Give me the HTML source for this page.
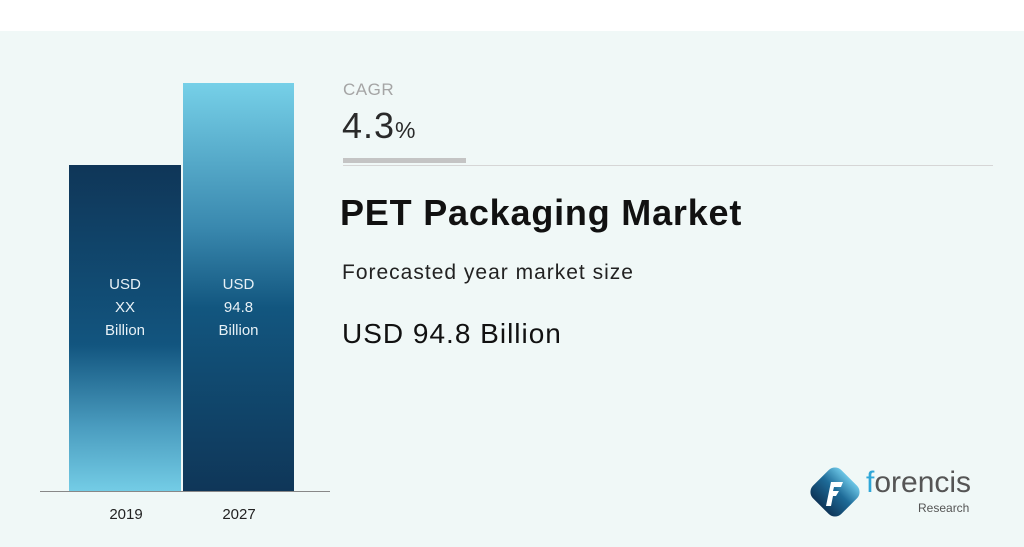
<!DOCTYPE html>
<html><head><meta charset="utf-8"><style>
html,body{margin:0;padding:0}
body{width:1024px;height:547px;position:relative;background:#fff;font-family:"Liberation Sans","DejaVu Sans",sans-serif;overflow:hidden}
.bg{position:absolute;left:0;top:31px;width:1024px;height:516px;background:#f0f8f7}
.a{position:absolute}
.bar{position:absolute;color:#e8f1f6;font-size:15px;line-height:23px;text-align:center}
</style></head><body>
<div class="bg"></div>
<div class="bar" style="left:69px;top:165px;width:112px;height:327px;background:linear-gradient(#0f3658,#12557f 55%,#4a9cbf 80%,#74cde6)"><div style="margin-top:108px">USD<br>XX<br>Billion</div></div>
<div class="bar" style="left:183px;top:83px;width:111px;height:409px;background:linear-gradient(#76d0e8,#3a89af 35%,#12567f 55%,#0f3658)"><div style="margin-top:190px">USD<br>94.8<br>Billion</div></div>
<div class="a" style="left:40px;top:491px;width:290px;height:1px;background:#888"></div>
<div class="a" style="left:96px;top:506px;width:60px;text-align:center;font-size:15px;color:#222">2019</div>
<div class="a" style="left:209px;top:506px;width:60px;text-align:center;font-size:15px;color:#222">2027</div>
<div class="a" style="left:343px;top:80px;font-size:17px;color:#a5a5a5;letter-spacing:0.5px">CAGR</div>
<div class="a" style="left:342px;top:105px;font-size:36px;color:#2a2a2a;letter-spacing:1px">4.3<span style="font-size:23px">%</span></div>
<div class="a" style="left:343px;top:158px;width:123px;height:5px;background:#c4c4c4"></div>
<div class="a" style="left:343px;top:165px;width:650px;height:1px;background:#d6d6d6"></div>
<div class="a" style="left:340px;top:192px;font-size:36px;font-weight:bold;color:#111;letter-spacing:0.8px">PET Packaging Market</div>
<div class="a" style="left:342px;top:261px;font-size:21px;color:#222;letter-spacing:1px">Forecasted year market size</div>
<div class="a" style="left:342px;top:318px;font-size:28px;color:#111;letter-spacing:1px">USD 94.8 Billion</div>
<svg class="a" style="left:805px;top:462px" width="60" height="60" viewBox="0 0 60 60">
<defs><linearGradient id="g" x1="0" y1="0" x2="0" y2="1"><stop offset="0" stop-color="#6cc6e6"/><stop offset="0.45" stop-color="#1e6b98"/><stop offset="1" stop-color="#0e3558"/></linearGradient></defs>
<rect x="10" y="10" width="40" height="40" rx="9" transform="rotate(45 30 30)" fill="url(#g)"/>
<path d="M26 20h12l-2 5h-7l-1 4h6l-3 5h-3l-2 10h-5z" fill="#fff"/>
</svg>
<div class="a" style="left:866px;top:466px;font-size:30px;color:#555"><span style="color:#2fa7d8">f</span>orencis</div>
<div class="a" style="left:918px;top:501px;font-size:12px;color:#555">Research</div>
</body></html>
